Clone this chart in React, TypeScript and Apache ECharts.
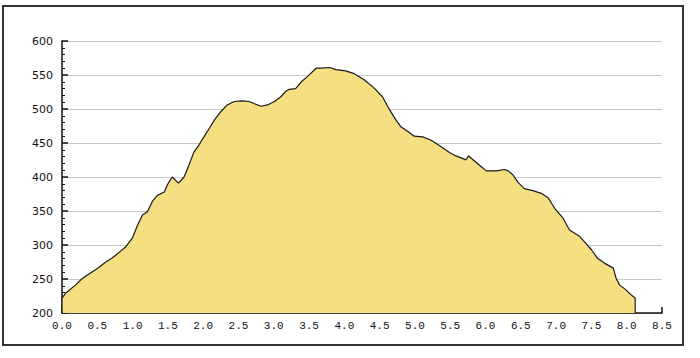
import React, { useEffect, useRef } from "react";
import * as echarts from "echarts";

const distances = [
  0, 0, 0.05, 0.19, 0.28, 0.36, 0.48, 0.52, 0.62, 0.71, 0.76, 0.83, 0.9, 1.0, 1.07, 1.14, 1.21, 1.28, 1.35,
  1.45, 1.49, 1.56, 1.65, 1.73, 1.8, 1.87, 1.94, 2.01, 2.09, 2.16, 2.25, 2.34, 2.44, 2.56, 2.65, 2.72,
  2.82, 2.91, 3.01, 3.1, 3.17, 3.22, 3.31, 3.39, 3.48, 3.6, 3.67, 3.79, 3.88, 4.02, 4.14, 4.28, 4.43,
  4.54, 4.64, 4.73, 4.8, 4.9, 4.99, 5.11, 5.23, 5.35, 5.49, 5.58, 5.68, 5.72, 5.76, 5.84, 5.94, 6.01,
  6.15, 6.27, 6.32, 6.39, 6.46, 6.55, 6.67, 6.79, 6.89, 6.98, 7.1, 7.19, 7.33, 7.4, 7.5, 7.59, 7.69,
  7.81, 7.85, 7.9, 7.99, 8.07, 8.12, 8.12,
];
const elevations = [
  200, 222, 229, 241, 250, 256, 264, 267, 275, 281, 285, 291, 297, 311, 329, 344, 349, 364, 373,
  378, 388, 400, 391, 400, 418, 437, 447, 459, 472, 484, 496, 506, 511, 512, 511, 508,
  504, 506, 511, 518, 526, 529, 530, 540, 548, 560, 560, 561, 558, 556, 552, 543, 530,
  518, 499, 484, 474, 467, 460, 459, 454, 446, 436, 431, 427, 425, 431, 424, 415, 409,
  409, 411, 409, 403, 392, 383, 380, 376, 369, 354, 339, 322, 313, 305, 293, 280, 273,
  266, 251, 241, 234, 226, 222, 200,
];

const xMin = 0;
const xMax = 8.5;
const xStep = 0.5;
const yMin = 200;
const yMax = 600;
const yStep = 50;

export default function App() {
  const ref = useRef<HTMLDivElement>(null);
  useEffect(() => {
    if (!ref.current) return;
    const chart = echarts.init(ref.current, undefined, { renderer: "svg" });
    const data = distances.map((d, i) => [d, elevations[i]]);
    chart.setOption({
      animation: false,
      backgroundColor: "#fff",
      grid: { left: 62, right: 38, top: 41, bottom: 45, containLabel: false },
      xAxis: {
        type: "value",
        min: xMin,
        max: xMax,
        interval: xStep,
        axisLine: { lineStyle: { color: "#111", width: 1.5 } },
        axisTick: { inside: true, length: 6, lineStyle: { color: "#111", width: 1.5 } },
        axisLabel: {
          formatter: (v: number) => v.toFixed(1),
          fontFamily: "Liberation Mono",
          fontSize: 11,
          color: "#111",
          margin: 7,
        },
        splitLine: { show: false },
      },
      yAxis: {
        type: "value",
        min: yMin,
        max: yMax,
        interval: yStep,
        axisLine: { show: true, lineStyle: { color: "#111", width: 1.5 } },
        axisTick: { show: true, inside: true, length: 6, lineStyle: { color: "#111", width: 1.5 } },
        minorTick: { show: true, splitNumber: 5, length: 3, lineStyle: { color: "#111", width: 1 } },
        axisLabel: {
          fontFamily: "DejaVu Sans",
          fontSize: 11,
          color: "#111",
          margin: 9,
        },
        splitLine: { show: true, lineStyle: { color: "#c8c8c8", width: 1 } },
      },
      series: [
        {
          type: "line",
          data,
          showSymbol: false,
          symbol: "none",
          lineStyle: { color: "#1a1a1a", width: 1.2 },
          areaStyle: { color: "#F5DF80", opacity: 1, origin: "start" },
          z: 3,
        },
      ],
      graphic: [
        {
          type: "rect",
          shape: { x: 3, y: 6, width: 680, height: 339 },
          style: { fill: "none", stroke: "#333", lineWidth: 2 },
          silent: true,
        },
      ],
    });
    return () => chart.dispose();
  }, []);
  return (
    <div
      ref={ref}
      style={{ position: "absolute", left: 0, top: 0, width: 700, height: 358 }}
    />
  );
}
